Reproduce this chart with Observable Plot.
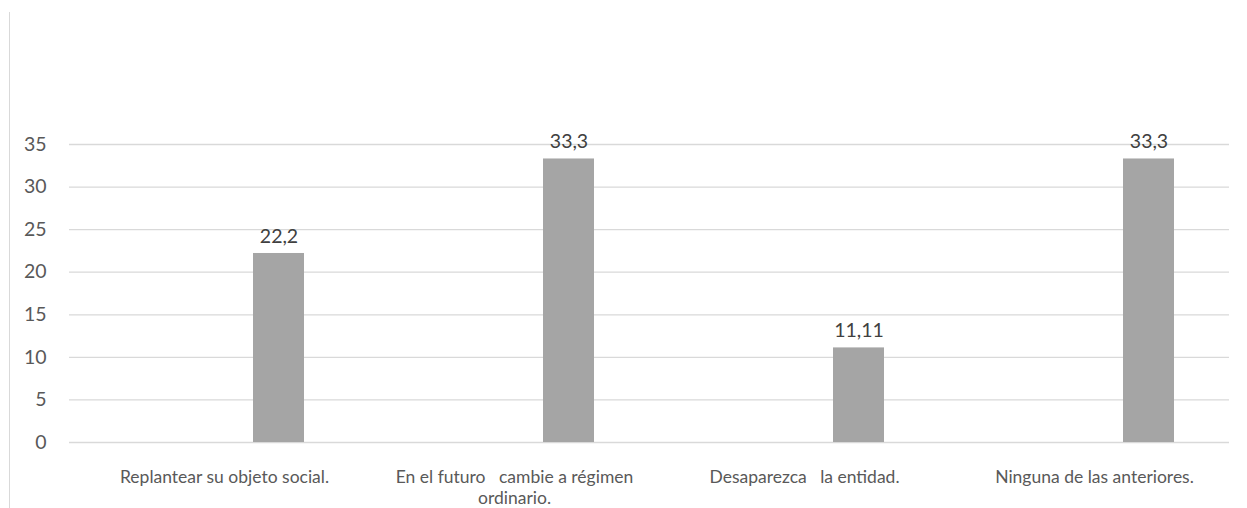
<!DOCTYPE html>
<html>
<head>
<meta charset="utf-8">
<script src="https://cdn.jsdelivr.net/npm/d3@7"></script>
<script src="https://cdn.jsdelivr.net/npm/@observablehq/plot@0.6"></script>
<style>
  html, body { margin: 0; padding: 0; background: #fff; }
  #wrap { position: relative; width: 1247px; height: 508px; }
  #frame { position: absolute; left: 9px; top: 12px; width: 0; height: 496px; border-left: 1px solid #d9d9d9; }
  #chart { position: absolute; left: 0; top: 0; }
</style>
</head>
<body>
<div id="wrap"><div id="frame"></div><div id="chart"></div></div>
<script>
const categories = [
  "Replantear su objeto social.",
  "En el futuro   cambie a régimen\nordinario.",
  "Desaparezca   la entidad.",
  "Ninguna de las anteriores."
];
const values = [22.2, 33.3, 11.11, 33.3];
const valueLabels = ["22,2", "33,3", "11,11", "33,3"];
const yTicks = [0, 5, 10, 15, 20, 25, 30, 35];

const data = categories.map((c, i) => ({ cat: c, value: values[i], label: valueLabels[i] }));
const nb = s => s.replace(/ /g, "\u00a0");

const chart = Plot.plot({
  width: 1247,
  height: 508,
  marginLeft: 69,
  marginRight: 18,
  marginTop: 144,
  marginBottom: 66,
  style: { fontFamily: "Lato, 'Open Sans', sans-serif", fontSize: "17px", color: "#595959", background: "transparent" },
  x: { domain: categories, padding: 0, axis: null },
  y: { domain: [0, 35], axis: null },
  marks: [
    Plot.gridY(yTicks, { stroke: "#d9d9d9", strokeOpacity: 1, strokeWidth: 1.3 }),
    Plot.axisY(yTicks, { tickSize: 0, tickPadding: 23, fontSize: 19.5, fill: "#595959", label: null }),
    Plot.axisX({ tickSize: 0, tickPadding: 25, fontSize: 17.5, fill: "#595959", label: null, dx: 10, lineHeight: 1.22, tickFormat: d => nb(d) }),
    Plot.barY(data, { x: "cat", y: "value", fill: "#a5a5a5", insetLeft: 184, insetRight: 55 }),
    Plot.text(data, { x: "cat", y: "value", text: "label", dx: 64.5, dy: -17, fontSize: 19.5, fill: "#404040" })
  ]
});
document.getElementById("chart").appendChild(chart);
</script>
</body>
</html>
